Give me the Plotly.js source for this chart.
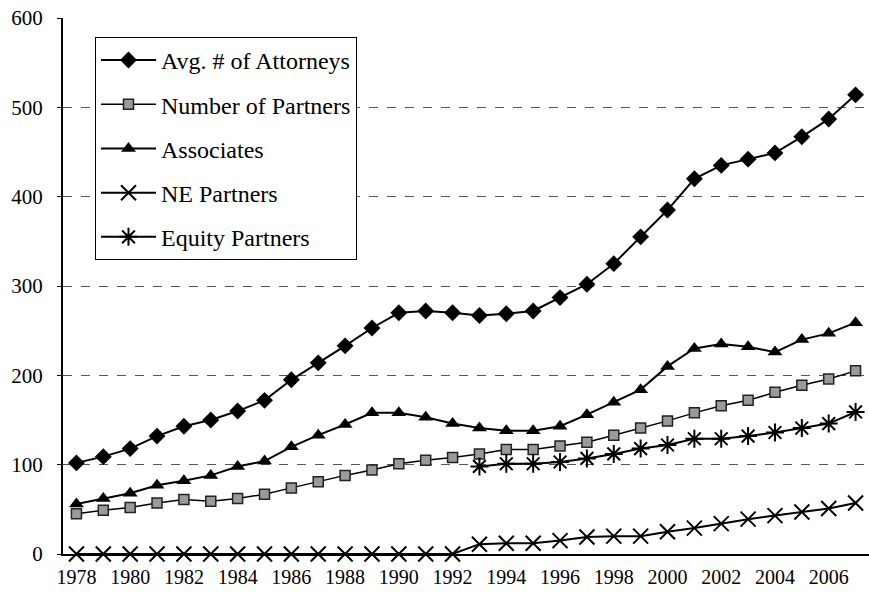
<!DOCTYPE html>
<html>
<head>
<meta charset="utf-8">
<script src="https://cdn.plot.ly/plotly-3.0.1.min.js"></script>
<style>
html,body{margin:0;padding:0;background:#fff;}
#chart{width:869px;height:596px;}
</style>
</head>
<body>
<div id="chart"></div>
<script>
const years = [1978,1979,1980,1981,1982,1983,1984,1985,1986,1987,1988,1989,1990,1991,1992,1993,1994,1995,1996,1997,1998,1999,2000,2001,2002,2003,2004,2005,2006,2007];
const avgAttorneys = [102,109,118,132,143,150,160,172,195,214,233,253,270,272,270,267,269,272,287,302,325,355,385,420,435,442,449,467,487,514];
const numPartners = [45,49,52,57,61,59,62,67,74,81,88,94,101,105,108,112,117,117,121,125,133,141,149,158,166,172,181,189,196,205];
const associates = [56,62,68,77,82,88,98,104,120,133,145,158,158,153,146,141,138,138,143,156,170,184,210,230,235,232,226,240,247,259];
const nePartners = [0,0,0,0,0,0,0,0,0,0,0,0,0,0,0,11,12,12,15,19,20,20,25,29,34,39,43,47,51,57];
const equityPartners = [null,null,null,null,null,null,null,null,null,null,null,null,null,null,null,98,101,101,103,107,112,118,122,129,129,132,136,141,146,159];
const seriesNames = ["Avg. # of Attorneys","Number of Partners","Associates","NE Partners","Equity Partners"];
const xTicks = [1978,1980,1982,1984,1986,1988,1990,1992,1994,1996,1998,2000,2002,2004,2006];
const yTicks = [0,100,200,300,400,500,600];

const lineStyle = {color:'#000', width:2};
const traces = [
  {x:years, y:avgAttorneys, name:seriesNames[0], legendgroup:'a', mode:'lines+markers', line:lineStyle,
   marker:{symbol:'diamond', size:13, color:'#000'}},
  {x:years, y:numPartners, name:seriesNames[1], legendgroup:'b', mode:'lines+markers', line:{color:'#000', width:1.5},
   marker:{symbol:'square', size:10, color:'#9a9a9a', line:{color:'#222', width:1.5}}},
  {x:years, y:associates, name:seriesNames[2], legendgroup:'c', mode:'lines+markers', line:lineStyle,
   marker:{symbol:'triangle-up', size:13, color:'#000'}},
  {x:years, y:nePartners, name:seriesNames[3], legendgroup:'d', mode:'lines+markers', line:lineStyle,
   marker:{symbol:'x-thin-open', size:15, color:'#000', line:{color:'#000', width:2}}},
  {x:years, y:equityPartners, name:seriesNames[4], legendgroup:'e', mode:'lines+markers', line:lineStyle,
   marker:{symbol:'asterisk-open', size:15, color:'#000', line:{color:'#000', width:2}}}
];
traces.forEach(t => t.cliponaxis = false);

const layout = {
  width:869, height:596,
  margin:{l:63, r:0, t:18, b:42},
  paper_bgcolor:'#fff', plot_bgcolor:'#fff',
  font:{family:'Liberation Serif', color:'#000', size:18},
  showlegend:true,
  legend:{x:0.0397, y:0.9646, xanchor:'left', yanchor:'top', bgcolor:'#fff', bordercolor:'#000', borderwidth:1,
          font:{family:'Liberation Serif', size:24, color:'#000'}, tracegroupgap:10, traceorder:'grouped', itemwidth:55},
  xaxis:{range:[1977.5,2007.5], tickmode:'array', tickvals:xTicks, ticktext:xTicks.map(String),
         showgrid:false, zeroline:false, showline:true, linecolor:'#000', linewidth:2,
         ticks:'', ticklabelstandoff:4, tickfont:{family:'Liberation Serif', size:20, color:'#000'}},
  yaxis:{range:[0,600], tickmode:'array', tickvals:yTicks, ticktext:yTicks.map(String),
         showgrid:true, gridcolor:'#555', griddash:'dash', gridwidth:1, zeroline:false,
         showline:true, linecolor:'#000', linewidth:2, ticks:'outside', ticklen:4, tickcolor:'#000',
         ticklabelstandoff:10, tickfont:{family:'Liberation Serif', size:21, color:'#000'}}
};
Plotly.newPlot('chart', traces, layout, {displayModeBar:false});
</script>
</body>
</html>
